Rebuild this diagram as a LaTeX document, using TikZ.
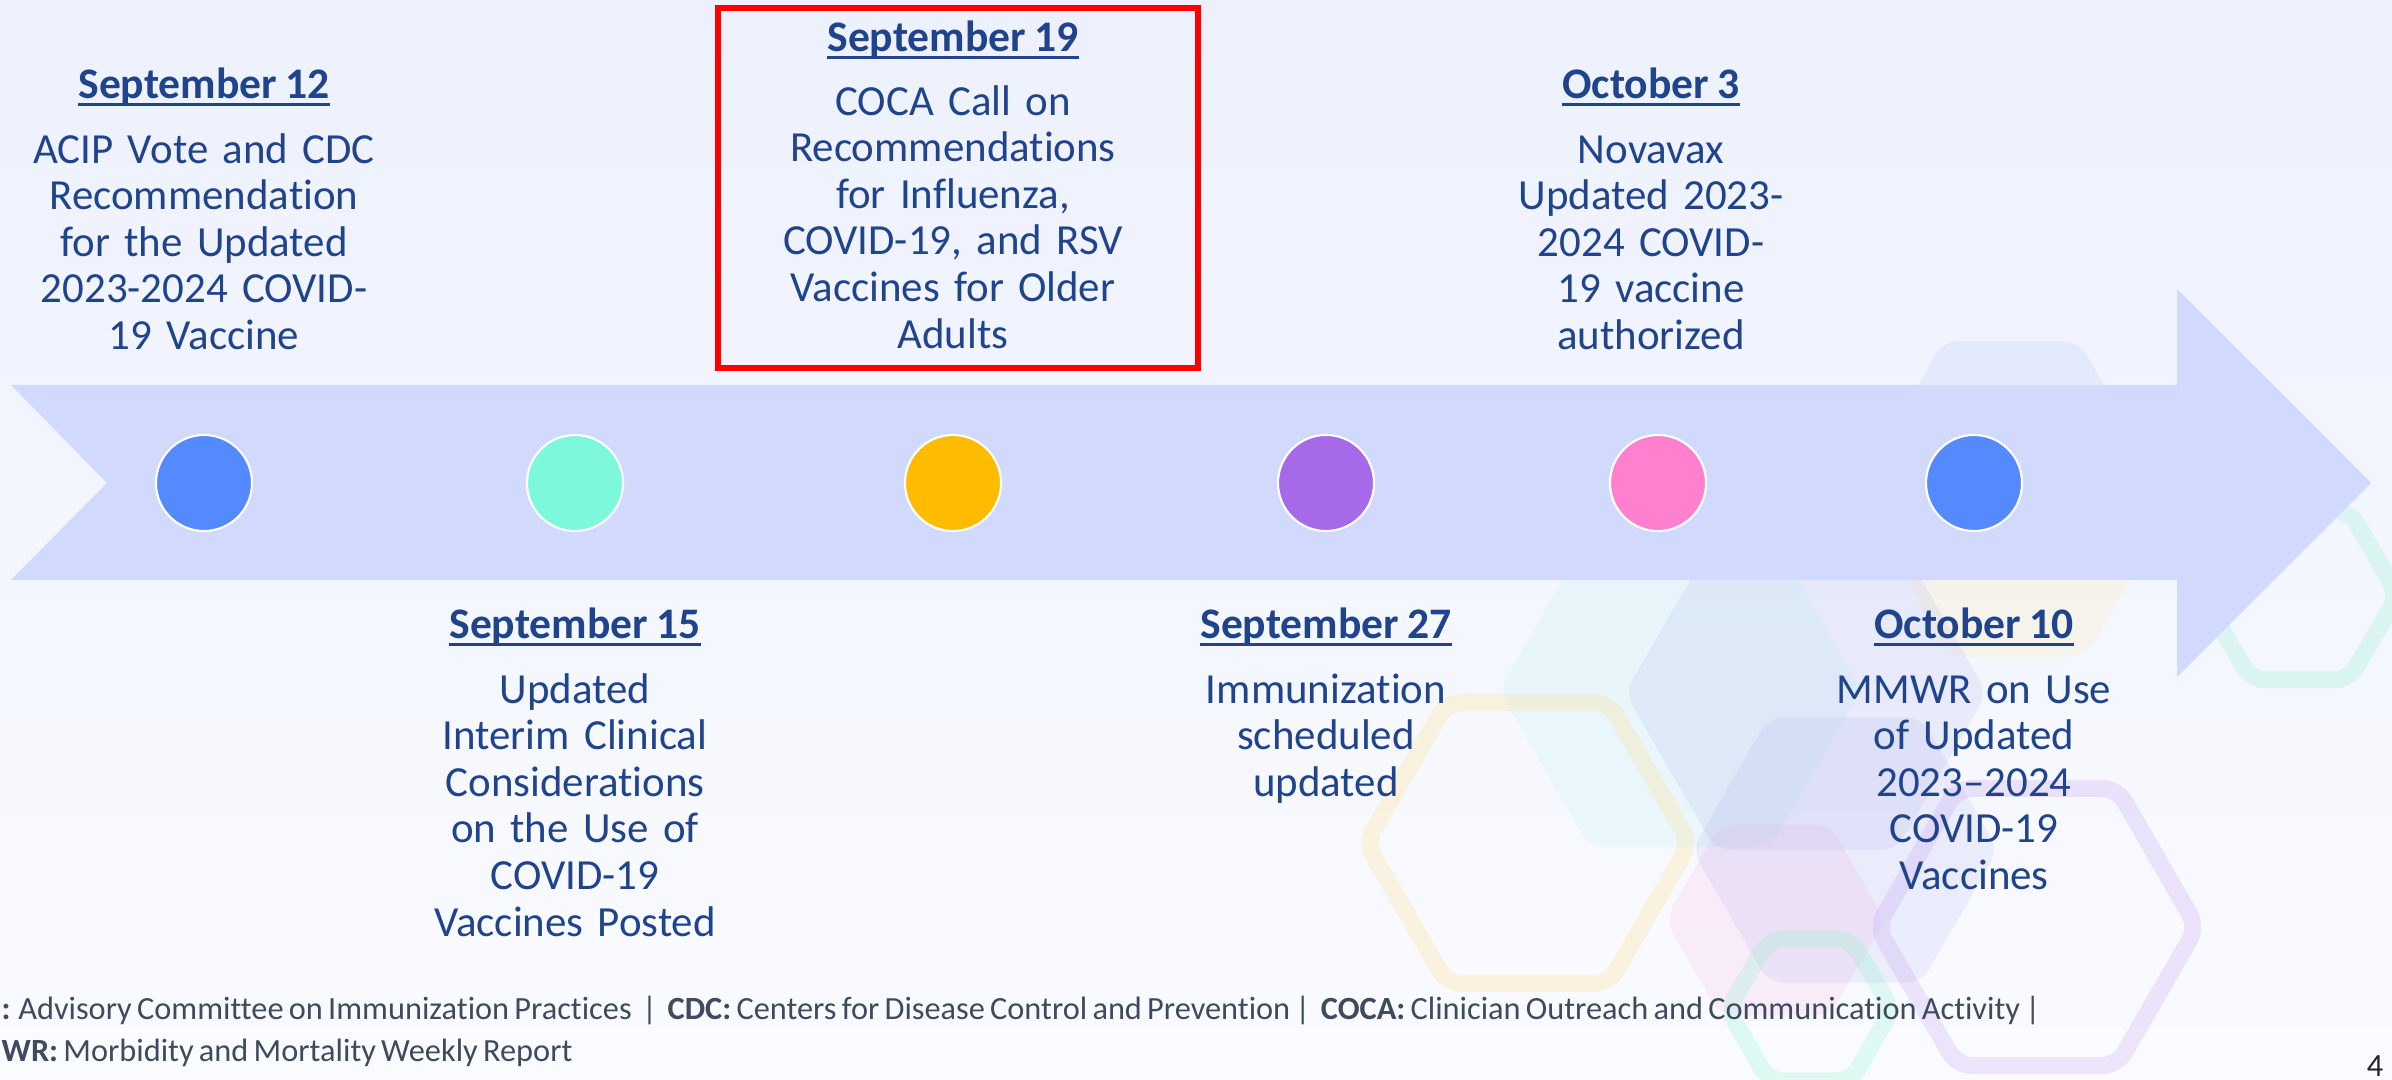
\documentclass[tikz,border=0pt]{standalone}
\usepackage{fontspec}
\setmainfont{Carlito}[Ligatures=NoCommon,WordSpace=0.85]
\newfontfamily\notefont{Carlito}[Ligatures=NoCommon,WordSpace=0.72]
\usetikzlibrary{positioning}
\usetikzlibrary{calc}

\definecolor{navy}{RGB}{31,68,140}
\definecolor{notegray}{RGB}{62,75,94}
\definecolor{bgtop}{RGB}{237,241,253}
\definecolor{bgbot}{RGB}{250,251,255}
\definecolor{arrowfill}{RGB}{209,217,253}
\definecolor{dotblue}{RGB}{85,138,255}
\definecolor{dotteal}{RGB}{125,248,218}
\definecolor{dotamber}{RGB}{255,187,0}
\definecolor{dotpurple}{RGB}{166,106,232}
\definecolor{dotpink}{RGB}{255,128,206}
\definecolor{hexyellow}{RGB}{255,222,130}
\definecolor{hexlav}{RGB}{160,165,230}
\definecolor{hexblue}{RGB}{150,180,245}
\definecolor{hexcyan}{RGB}{160,238,240}
\definecolor{hexmint}{RGB}{140,240,205}
\definecolor{hexpink}{RGB}{255,160,220}
\definecolor{hexpurple}{RGB}{195,160,240}

% underlined date heading
\newcommand{\dateul}[1]{\setbox0\hbox{#1}\rlap{\raisebox{-1.9pt}{\rule{\wd0}{0.9pt}}}\box0}
% faint hexagon: style, centre, radius
\newcommand{\bghex}[3]{\path[#1] (#2) +(0:#3) -- +(60:#3) -- +(120:#3) -- +(180:#3) -- +(240:#3) -- +(300:#3) -- cycle;}

\begin{document}
\begin{tikzpicture}[x=0.01cm,y=-0.01cm,
  dot/.style={circle,draw=white,line width=0.6pt,minimum size=0.96cm,inner sep=0pt},
  datehead/.style={font=\fontsize{12.4pt}{14pt}\selectfont\bfseries,text=navy,anchor=base,inner sep=0pt},
  eventtext/.style={font=\fontsize{12.2pt}{13.25pt}\selectfont,text=navy,text width=4.4cm,align=center,inner sep=0pt},
  footnote/.style={font=\notefont\fontsize{9.2pt}{11pt}\selectfont,text=notegray,anchor=base west,inner sep=0pt},
  hexfill/.style={fill=#1,fill opacity=0.15,rounded corners=0.15cm},
  hexline/.style={draw=#1,draw opacity=0.25,line width=0.17cm,rounded corners=0.15cm}]

  \useasboundingbox (0,0) rectangle (2392,1080);
  \clip (0,0) rectangle (2392,1080);
  \shade[top color=bgtop,bottom color=bgbot] (0,0) rectangle (2392,1080);

  % background hexagons
  \bghex{hexfill=hexblue}{2011,458}{135}
  \bghex{hexfill=hexyellow}{2018,540}{135}
  \bghex{hexfill=hexcyan}{1680,690}{181}
  \bghex{hexfill=hexlav}{1806,693}{181}
  \bghex{hexfill=hexpink}{1775,920}{110}
  \bghex{hexfill=hexlav}{1845,850}{153}
  \bghex{hexline=hexyellow}{1528,843}{162}
  \bghex{hexline=hexpurple}{2037,927}{160}
  \bghex{hexline=hexmint}{1810,1010}{82}
  \bghex{hexline=hexmint}{2300,595}{98}

  % timeline arrow
  \fill[arrowfill] (11,385) -- (2177,385) -- (2177,289) -- (2371,483)
    -- (2177,677) -- (2177,580) -- (11,580) -- (107,483) -- cycle;

  \node[dot,fill=dotblue]   (d1) at (204,483)  {};
  \node[dot,fill=dotteal]   (d2) at (575,483)  {};
  \node[dot,fill=dotamber]  (d3) at (953,483)  {};
  \node[dot,fill=dotpurple] (d4) at (1326,483) {};
  \node[dot,fill=dotpink]   (d5) at (1658,483) {};
  \node[dot,fill=dotblue]   (d6) at (1974,483) {};

  % above the arrow
  \node[datehead] (h1) at (204,99) {\dateul{September 12}};
  \node[eventtext,below=0.64cm of h1.base,anchor=base] (e1)
    {ACIP Vote and CDC\\Recommendation\\for the Updated\\2023-2024 COVID-\\19 Vaccine};

  \node[datehead] (h3) at (953,52) {\dateul{September 19}};
  \node[eventtext,below=0.63cm of h3.base,anchor=base] (e3)
    {COCA Call on\\Recommendations\\for Influenza,\\COVID-19, and RSV\\Vaccines for Older\\Adults};
  \draw[red,line width=0.06cm] (718,8) rectangle (1198,368);

  \node[datehead] (h5) at (1651,99) {\dateul{October 3}};
  \node[eventtext,below=0.64cm of h5.base,anchor=base] (e5)
    {Novavax\\Updated 2023-\\2024 COVID-\\19 vaccine\\authorized};

  % below the arrow
  \node[datehead] (h2) at (575,639) {\dateul{September 15}};
  \node[eventtext,below=0.64cm of h2.base,anchor=base] (e2)
    {Updated\\Interim Clinical\\Considerations\\on the Use of\\COVID-19\\Vaccines Posted};

  \node[datehead] (h4) at (1326,639) {\dateul{September 27}};
  \node[eventtext,below=0.64cm of h4.base,anchor=base] (e4)
    {Immunization\\scheduled\\updated};

  \node[datehead] (h6) at (1974,639) {\dateul{October 10}};
  \node[eventtext,below=0.64cm of h6.base,anchor=base] (e6)
    {MMWR on Use\\of Updated\\2023–2024\\COVID-19\\Vaccines};

  % abbreviations
  \node[footnote] (fn1) at (1,1019) {\textbf{:} Advisory Committee on Immunization Practices~ |~ \textbf{CDC:} Centers for Disease Control and Prevention |~ \textbf{COCA:} Clinician Outreach and Communication Activity |};
  \node[footnote] (fn2) at (1,1061) {\textbf{WR:} Morbidity and Mortality Weekly Report};
  \node[footnote,text=black!85] (pg) at (2366,1076) {4};
\end{tikzpicture}
\end{document}
